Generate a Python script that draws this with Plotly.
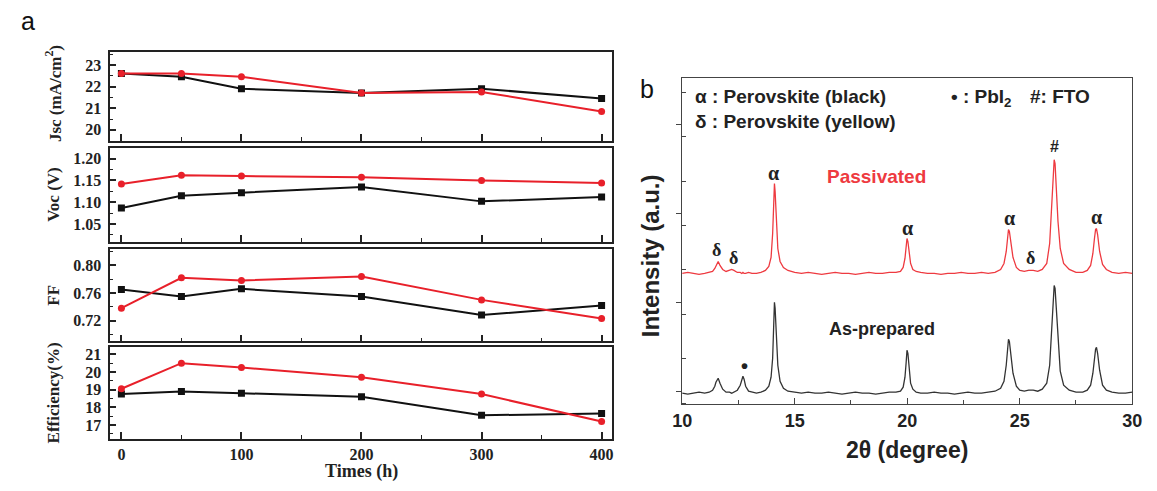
import plotly.graph_objects as go

# ---------------- Panel a data ----------------
times = [0, 50, 100, 200, 300, 400]
time_ticks = [0, 100, 200, 300, 400]
jsc_black = [22.6, 22.45, 21.9, 21.7, 21.9, 21.45]
jsc_red = [22.6, 22.6, 22.45, 21.7, 21.75, 20.85]
voc_black = [1.087, 1.115, 1.122, 1.135, 1.102, 1.112]
voc_red = [1.142, 1.162, 1.160, 1.157, 1.150, 1.144]
ff_black = [0.765, 0.755, 0.766, 0.755, 0.728, 0.742]
ff_red = [0.738, 0.782, 0.778, 0.784, 0.750, 0.723]
eff_black = [18.75, 18.9, 18.8, 18.6, 17.55, 17.65]
eff_red = [19.05, 20.5, 20.25, 19.7, 18.75, 17.2]
jsc_ticks = [20, 21, 22, 23]
voc_ticks = [1.05, 1.10, 1.15, 1.20]
ff_ticks = [0.72, 0.76, 0.80]
eff_ticks = [17, 18, 19, 20, 21]

# ---------------- Panel b data (XRD) ----------------
two_theta = [
    10.0, 10.25, 10.5, 10.75, 11.0, 11.2, 11.35, 11.45, 11.5, 11.55,
    11.6, 11.68, 11.8, 11.95, 12.1, 12.2, 12.3, 12.45, 12.58, 12.65,
    12.7, 12.75, 12.82, 12.95, 13.1, 13.3, 13.5, 13.7, 13.85, 13.95,
    14.02, 14.07, 14.1, 14.13, 14.18, 14.25, 14.35, 14.5, 14.7, 15.0,
    15.3, 15.6, 15.9, 16.2, 16.5, 16.8, 17.1, 17.4, 17.7, 18.0,
    18.3, 18.6, 18.9, 19.2, 19.5, 19.7, 19.82, 19.9, 19.95, 19.99,
    20.03, 20.08, 20.15, 20.25, 20.4, 20.6, 20.9, 21.2, 21.5, 21.8,
    22.1, 22.4, 22.7, 23.0, 23.3, 23.6, 23.9, 24.15, 24.3, 24.4,
    24.46, 24.5, 24.54, 24.6, 24.7, 24.85, 25.0, 25.2, 25.4, 25.6,
    25.8, 26.0, 26.2, 26.33, 26.42, 26.48, 26.53, 26.57, 26.62, 26.7,
    26.8, 26.95, 27.2, 27.5, 27.8, 28.0, 28.15, 28.25, 28.32, 28.37,
    28.41, 28.46, 28.55, 28.68, 28.85, 29.1, 29.4, 29.7, 30.0,
]
as_prepared = [
    10, 9, 10, 11, 10, 11, 13, 17, 21, 24,
    25, 20, 14, 11, 11, 10, 11, 13, 18, 24,
    27, 24, 17, 12, 11, 10, 11, 13, 17, 26,
    45, 80, 101, 95, 68, 38, 22, 15, 12, 11,
    10, 11, 10, 10, 11, 10, 9, 10, 11, 10,
    10, 9, 10, 11, 11, 12, 16, 26, 40, 53,
    50, 35, 20, 14, 11, 10, 10, 11, 10, 10,
    9, 10, 11, 10, 10, 11, 12, 15, 22, 38,
    55, 64, 62, 50, 30, 17, 13, 12, 13, 13,
    12, 14, 20, 38, 70, 100, 118, 115, 95, 60,
    32, 18, 13, 11, 11, 13, 18, 30, 45, 54,
    56, 50, 33, 18, 13, 11, 10, 10, 11,
]
passivated = [
    130, 131, 130, 129, 130, 131, 132, 135, 138, 141,
    142, 138, 134, 132, 133, 134, 133, 131, 131, 130,
    131, 130, 130, 131, 130, 130, 131, 133, 137, 146,
    170, 205, 220, 212, 180, 155, 142, 136, 133, 131,
    130, 131, 130, 129, 130, 131, 130, 130, 129, 130,
    131, 130, 130, 131, 131, 132, 136, 145, 157, 165,
    162, 151, 140, 134, 132, 131, 130, 130, 129, 130,
    130, 131, 130, 130, 131, 130, 131, 134, 140, 152,
    166, 174, 172, 162, 146, 136, 133, 132, 133, 133,
    132, 134, 140, 160, 195, 230, 244, 240, 218, 182,
    155, 140, 134, 131, 131, 133, 138, 150, 165, 174,
    175, 169, 152, 139, 134, 131, 130, 131, 130,
]
theta_ticks = [10, 15, 20, 25, 30]

W, H = 1157, 491
def px(x):
    return x / W
def py(y):
    return 1 - y / H

BLACK = "#111111"
RED = "#e8202a"
SERIF = "Liberation Serif"
SANS = "Liberation Sans"

fig = go.Figure()

panels = [
    ("y", jsc_black, jsc_red, [19.5, 23.6], jsc_ticks, "{:d}", 0.5, (51, 140)),
    ("y2", voc_black, voc_red, [1.01, 1.225], voc_ticks, "{:.2f}", 0.025, (147, 241)),
    ("y3", ff_black, ff_red, [0.69, 0.823], ff_ticks, "{:.2f}", 0.02, (249, 341)),
    ("y4", eff_black, eff_red, [16.2, 21.4], eff_ticks, "{:d}", 0.5, (347, 439)),
]
xnames = ["x", "x2", "x3", "x4"]

for i, (yn, yb, yr, rng, tv, fmt, mdt, (t, b)) in enumerate(panels):
    xn = xnames[i]
    fig.add_trace(go.Scatter(x=times, y=yb, xaxis=xn, yaxis=yn, mode="lines+markers",
                             line=dict(color=BLACK, width=2),
                             marker=dict(symbol="square", size=7, color=BLACK),
                             showlegend=False))
    fig.add_trace(go.Scatter(x=times, y=yr, xaxis=xn, yaxis=yn, mode="lines+markers",
                             line=dict(color=RED, width=2),
                             marker=dict(symbol="circle", size=7, color=RED),
                             showlegend=False))
    xk = "xaxis" if i == 0 else f"xaxis{i+1}"
    yk = "yaxis" if i == 0 else f"yaxis{i+1}"
    fig.layout[xk] = dict(
        domain=[px(102), px(613)], anchor=yn, range=[-9.3, 409],
        tickvals=time_ticks, ticktext=[f"<b>{v}</b>" for v in time_ticks],
        showticklabels=(i == 3),
        ticks="inside", ticklen=7, tickwidth=1.5, tickcolor="#222",
        minor=dict(tickvals=[50, 150, 250, 350], ticks="inside", ticklen=4, tickwidth=1.2, tickcolor="#222"),
        showline=True, mirror=True, linecolor="#222", linewidth=1.6,
        showgrid=False, zeroline=False,
        tickfont=dict(family=SERIF, size=16, color="#222"),
    )
    fig.layout[yk] = dict(
        domain=[py(b), py(t)], anchor=xn, range=rng,
        tickvals=tv, ticktext=["<b>" + (fmt.format(int(v)) if fmt == "{:d}" else fmt.format(v)) + "</b>" for v in tv],
        ticks="inside", ticklen=6, tickwidth=1.5, tickcolor="#222",
        minor=dict(dtick=mdt, ticks="inside", ticklen=3, tickwidth=1.2, tickcolor="#222"),
        showline=True, mirror=True, linecolor="#222", linewidth=1.6,
        showgrid=False, zeroline=False, ticklabelstandoff=4,
        tickfont=dict(family=SERIF, size=16, color="#222"),
    )

# Panel b
fig.add_trace(go.Scatter(x=two_theta, y=as_prepared, xaxis="x5", yaxis="y5", mode="lines",
                         line=dict(color="#333333", width=1.3), showlegend=False))
fig.add_trace(go.Scatter(x=two_theta, y=passivated, xaxis="x5", yaxis="y5", mode="lines",
                         line=dict(color="#ee3a40", width=1.3), showlegend=False))
fig.layout["xaxis5"] = dict(
    domain=[px(684), px(1142)], anchor="y5", range=[10, 30],
    tickvals=theta_ticks, ticktext=[f"<b>{v}</b>" for v in theta_ticks],
    ticks="inside", ticklen=6, tickwidth=1.2, tickcolor="#444",
    minor=dict(dtick=2.5, ticks="inside", ticklen=4, tickwidth=1, tickcolor="#444"),
    showline=True, mirror=True, linecolor="#444", linewidth=1.3,
    showgrid=False, zeroline=False,
    tickfont=dict(family=SANS, size=18, color="#222"),
)
fig.layout["yaxis5"] = dict(
    domain=[py(404), py(77)], anchor="x5", range=[-1, 326],
    tick0=12, dtick=89, showticklabels=False,
    ticks="outside", ticklen=5, tickwidth=1.2, tickcolor="#444",
    minor=dict(dtick=44.5, ticks="inside", ticklen=4, tickwidth=1, tickcolor="#444"),
    showline=True, mirror=True, linecolor="#444", linewidth=1.3,
    showgrid=False, zeroline=False,
)

ann = []
def A(text, x, y, size, family=SERIF, color="#222", angle=0, xanchor="center", yanchor="middle"):
    ann.append(dict(text=text, x=px(x), y=py(y), xref="paper", yref="paper", showarrow=False,
                    font=dict(family=family, size=size, color=color), textangle=angle,
                    xanchor=xanchor, yanchor=yanchor))

A("a", 18, 20, 25, family=SANS, color="#111")
A("b", 648, 88, 25, family=SANS, color="#111")
A("<b>Jsc (mA/cm<sup>2</sup>)</b>", 44, 93, 17, angle=-90)
A("<b>Voc (V)</b>", 44, 194, 17, angle=-90)
A("<b>FF</b>", 44, 295, 17, angle=-90)
A("<b>Efficiency(%)</b>", 44, 393, 17, angle=-90)
A("<b>Times (h)</b>", 358, 471, 18)
A("<b>Intensity (a.u.)</b>", 652, 255, 24, family=SANS, angle=-90)
A("<b>2θ (degree)</b>", 913, 450, 23, family=SANS)
A("<b>α : Perovskite (black)</b>", 695, 96, 19, family=SANS, xanchor="left")
A("<b>δ : Perovskite (yellow)</b>", 695, 121, 19, family=SANS, xanchor="left")
A("<b>• : PbI<sub>2</sub></b>", 956, 97, 19, family=SANS, xanchor="left")
A("<b>#: FTO</b>", 1036, 96, 19, family=SANS, xanchor="left")
A("<b>Passivated</b>", 882, 176, 19, family=SANS, color="#ee3a40")
A("<b>As-prepared</b>", 887, 329, 18, family=SANS)
A("<b>δ</b>", 719, 250, 18, family=SERIF)
A("<b>δ</b>", 736, 258, 18, family=SERIF)
A("<b>α</b>", 777, 172, 20, family=SERIF)
A("<b>α</b>", 913, 227, 20, family=SERIF)
A("<b>α</b>", 1017, 217, 20, family=SERIF)
A("<b>δ</b>", 1038, 258, 18, family=SERIF)
A("<b>#</b>", 1063, 146, 16, family=SANS)
A("<b>α</b>", 1106, 216, 20, family=SERIF)
A("<b>•</b>", 747, 366, 20, family=SANS)

fig.update_layout(
    width=W, height=H, margin=dict(l=0, r=0, t=0, b=0),
    paper_bgcolor="white", plot_bgcolor="white", annotations=ann,
)
fig.write_html("out.html")
